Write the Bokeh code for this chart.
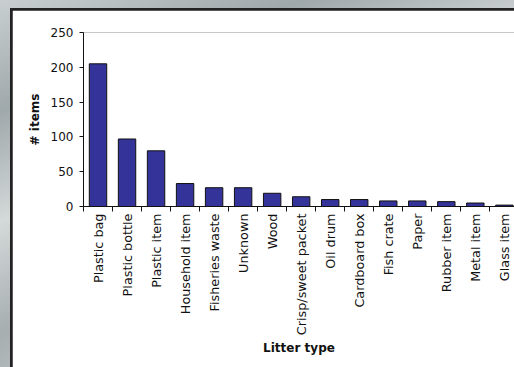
import math
from bokeh.plotting import figure
from bokeh.layouts import column
from bokeh.models import FixedTicker
from bokeh.embed import file_html
from bokeh.resources import INLINE

categories = ["Plastic bag", "Plastic bottle", "Plastic item", "Household item",
              "Fisheries waste", "Unknown", "Wood", "Crisp/sweet packet", "Oil drum",
              "Cardboard box", "Fish crate", "Paper", "Rubber item", "Metal item",
              "Glass item"]
values = [205, 97, 80, 33, 27, 27, 19, 14, 10, 10, 8, 8, 7, 5, 2]
y_ticks = [0, 50, 100, 150, 200, 250]

FONT = "DejaVu Sans"
xs = list(range(len(categories)))

p = figure(width=502, height=357, x_range=(-0.5, 14.35), y_range=(0, 250),
           output_backend="svg", toolbar_location=None,
           min_border_left=71, min_border_right=0, min_border_top=22,
           min_border_bottom=161, margin=(2, 0, 0, 2))
p.background_fill_color = "white"
p.border_fill_color = "white"
p.outline_line_color = None
p.xgrid.visible = False
p.ygrid.visible = False

p.vbar(x=xs, top=values, width=0.6, fill_color="#333399",
       line_color="#111111", line_width=1)

# x axis
xa = p.xaxis[0]
xa.ticker = FixedTicker(ticks=xs, minor_ticks=[i - 0.5 for i in range(len(categories) + 1)])
xa.major_label_overrides = {i: c for i, c in enumerate(categories)}
xa.major_label_orientation = math.pi / 2
xa.major_tick_line_color = None
xa.major_tick_out = 0
xa.major_tick_in = 0
xa.minor_tick_out = 5
xa.minor_tick_in = 0
xa.minor_tick_line_color = "#111111"
xa.axis_line_color = "#111111"
xa.major_label_standoff = 2
xa.major_label_text_font = FONT
xa.major_label_text_font_size = "12.8px"
xa.major_label_text_color = "#111111"
xa.axis_label = "Litter type"
xa.axis_label_text_font = FONT
xa.axis_label_text_font_size = "12px"
xa.axis_label_text_font_style = "bold"
xa.axis_label_text_color = "#111111"
xa.axis_label_standoff = 3

# y axis
ya = p.yaxis[0]
ya.ticker = FixedTicker(ticks=y_ticks)
ya.minor_tick_line_color = None
ya.major_tick_out = 4
ya.major_tick_in = 0
ya.major_tick_line_color = "#111111"
ya.axis_line_color = "#111111"
ya.major_label_standoff = 6
ya.major_label_text_font = FONT
ya.major_label_text_font_size = "12px"
ya.major_label_text_color = "#111111"
ya.axis_label = "# items"
ya.axis_label_text_font = FONT
ya.axis_label_text_font_size = "12px"
ya.axis_label_text_font_style = "bold"
ya.axis_label_text_color = "#111111"
ya.axis_label_standoff = 6

inner = column(p, margin=(8, 0, 0, 10), styles={"background-color": "#222222"})
outer = column(inner, width=514, height=367, margin=0,
               styles={"background": "linear-gradient(160deg, #c9cfd0 0%, #9fa8ab 20%, #d4d9d9 40%, #a7aeb0 60%, #c3c9ca 80%, #98a0a2 100%)"})

open("out.html", "w").write(file_html(outer, INLINE))
